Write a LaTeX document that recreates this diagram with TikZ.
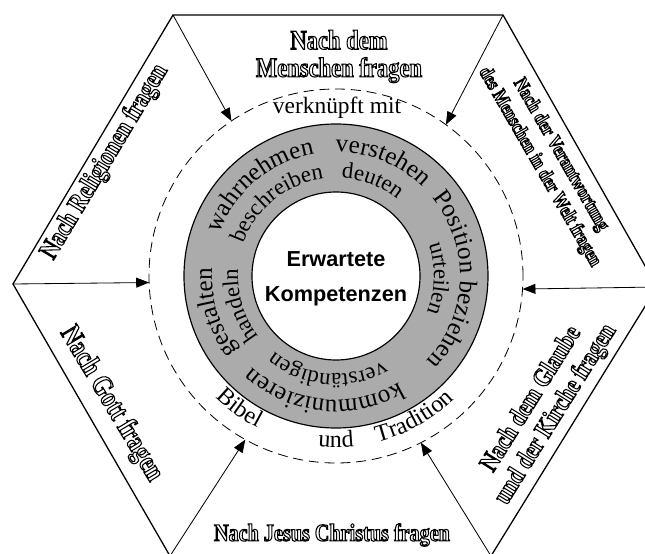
\documentclass[tikz,border=0pt]{standalone}
\usepackage{fontspec}
\setmainfont{Liberation Serif}
\newfontfamily\umrissfamily[FakeStretch=0.82]{Liberation Serif}
\newfontfamily\kompfamily{Liberation Sans}
\usetikzlibrary{arrows.meta,decorations.text}

\newcommand{\kontur}[1]{\special{pdf:literal direct 1 Tr 0.9 w}#1\special{pdf:literal direct 0 Tr}}

\begin{document}
\begin{tikzpicture}[
    x=0.03cm, y=0.03cm,
    frage/.style={
      align=center,
      inner sep=0pt,
      font=\umrissfamily\bfseries\fontsize{#1}{#1}\selectfont
    },
    kreis/.style={
      circle,
      inner sep=0pt,
      outer sep=0pt
    },
    aussen/.style={
      decorate,
      decoration={text along path, text align=center,
        text={|\fontsize{21.5}{21.5}\selectfont|#1}}
    },
    innen/.style={
      decorate,
      decoration={text along path, text align=center,
        text={|\fontsize{19.5}{19.5}\selectfont|#1}}
    },
    quelle/.style={
      decorate,
      decoration={text along path, text align=center,
        text={|\fontsize{20.5}{20.5}\selectfont|#1}}
    },
    pfeil/.style={draw, line width=0.7pt, -{Triangle[length=11pt, width=8.5pt]}}
    ]
    \clip (-336, -277) rectangle (309, 276);
    \coordinate (ol) at (-163, 261);
    \coordinate (or) at (167, 261);
    \coordinate (re) at (321, -11);
    \coordinate (ur) at (155, -280);
    \coordinate (ul) at (-166, -280);
    \coordinate (li) at (-323, -8);
    \draw[line width=1.1pt] (ol) -- (or) -- (re) -- (ur) -- (ul) -- (li) -- cycle;
    \node at (0, 0) [kreis, draw, dashed, dash pattern=on 8.5pt off 5pt, line width=0.7pt, minimum size=11.22cm] (verbund) {};
    \node at (0, 0) [kreis, draw, line width=1pt, fill=black!33, minimum size=9.12cm] (ring) {};
    \node at (0, 0) [kreis, draw, line width=1pt, fill=white, minimum size=5.04cm] (kern) {};
    \node at (0, -3) [align=center, font=\kompfamily\bfseries\fontsize{18.5}{30}\selectfont] (kompetenzen) {Erwartete\\Kompetenzen};
    \node at (1, 168) [font=\fontsize{20}{20}\selectfont] (verknuepft) {verknüpft mit};
    \path[aussen=wahrnehmen] (220:124) arc[start angle=220, end angle=40, radius=124];
    \path[aussen=verstehen] (158:124) arc[start angle=158, end angle=-22, radius=124];
    \path[aussen=Position beziehen] (88:124) arc[start angle=88, end angle=-92, radius=124];
    \path[aussen=kommunizieren] (-6:124) arc[start angle=-6, end angle=-186, radius=124];
    \path[aussen=gestalten] (287:124) arc[start angle=287, end angle=107, radius=124];
    \path[innen=beschreiben] (219:98) arc[start angle=219, end angle=39, radius=98];
    \path[innen=deuten] (159:98) arc[start angle=159, end angle=-21, radius=98];
    \path[innen=urteilen] (88.5:98) arc[start angle=88.5, end angle=-91.5, radius=98];
    \path[innen=verständigen] (-5:98) arc[start angle=-5, end angle=-185, radius=98];
    \path[innen=handeln] (287:98) arc[start angle=287, end angle=107, radius=98];
    \path[quelle=Bibel] (-216:171) arc[start angle=-216, end angle=-36, radius=171];
    \path[quelle=und] (-180:171) arc[start angle=-180, end angle=0, radius=171];
    \path[quelle=Tradition] (-151:171) arc[start angle=-151, end angle=29, radius=171];
    \node at (3, 219.5) [frage=23.5] (mensch) {\kontur{Nach dem}\\\kontur{Menschen fragen}};
    \node at (-4, -259) [frage=21] (jesus) {\kontur{Nach Jesus Christus fragen}};
    \node at (-231, 114) [frage=23, rotate=59] (religion) {\kontur{Nach Religionen fragen}};
    \node at (-225, -128) [frage=24.5, rotate=-59] (gott) {\kontur{Nach Gott fragen}};
    \node at (214, 115) [frage=16.8, rotate=-60] (verantwortung) {\kontur{Nach der Verantwortung}\\[4pt]\kontur{des Menschen in der Welt fragen}};
    \node at (208, -131) [frage=22.5, rotate=58] (kirche) {\kontur{Nach dem Glaube}\\[2pt]\kontur{und der Kirche fragen}};
    \path[pfeil] (ol) -- (verbund.124);
    \path[pfeil] (or) -- (verbund.54);
    \path[pfeil] (li) -- (verbund.182);
    \path[pfeil] (re) -- (verbund.356);
    \path[pfeil] (ul) -- (verbund.241);
    \path[pfeil] (ur) -- (verbund.297);
  \end{tikzpicture}
\end{document}
